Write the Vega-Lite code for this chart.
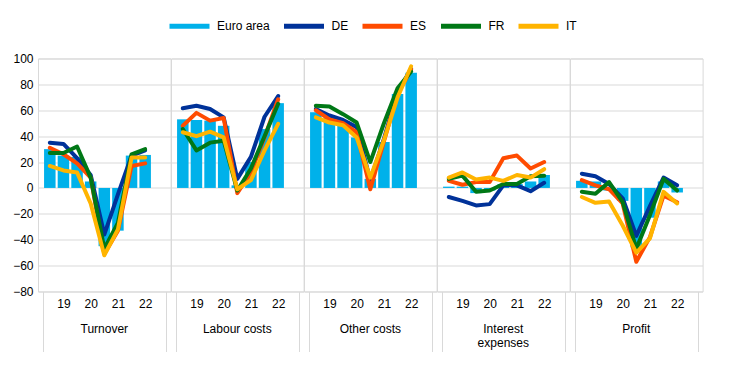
{
  "$schema": "https://vega.github.io/schema/vega-lite/v6.json",
  "background": "white",
  "padding": {"left": 12, "top": 3.5, "right": 5, "bottom": 5},
  "bounds": "flush",
  "config": {
    "font": "Liberation Sans",
    "view": {"stroke": "#d9d9d9", "strokeWidth": 1},
    "axis": {"labelFont": "Liberation Sans", "labelFontSize": 12, "labelColor": "#000000"}
  },
  "data": {
    "values": [
      {"panel": "Turnover", "half": 2018.5, "Euro area": 30, "DE": 35, "ES": 31, "FR": 27, "IT": 17},
      {"panel": "Turnover", "half": 2019, "Euro area": 25, "DE": 34, "ES": 26, "FR": 27, "IT": 13.5},
      {"panel": "Turnover", "half": 2019.5, "Euro area": 24, "DE": 23, "ES": 19, "FR": 32, "IT": 12},
      {"panel": "Turnover", "half": 2020, "Euro area": 5, "DE": 10, "ES": 8, "FR": 8, "IT": -12},
      {"panel": "Turnover", "half": 2020.5, "Euro area": -45, "DE": -36, "ES": -51, "FR": -47, "IT": -52},
      {"panel": "Turnover", "half": 2021, "Euro area": -33, "DE": -5, "ES": -33, "FR": -27, "IT": -32},
      {"panel": "Turnover", "half": 2021.5, "Euro area": 25, "DE": 25, "ES": 17, "FR": 26, "IT": 23.5},
      {"panel": "Turnover", "half": 2022, "Euro area": 25.5, "DE": 29, "ES": 19, "FR": 30, "IT": 23.5},
      {"panel": "Labour costs", "half": 2018.5, "Euro area": 53, "DE": 61.5, "ES": 48, "FR": 45.5, "IT": 43},
      {"panel": "Labour costs", "half": 2019, "Euro area": 52.5, "DE": 63.5, "ES": 58, "FR": 29, "IT": 40},
      {"panel": "Labour costs", "half": 2019.5, "Euro area": 52, "DE": 61, "ES": 52, "FR": 35, "IT": 43.5},
      {"panel": "Labour costs", "half": 2020, "Euro area": 48, "DE": 54.5, "ES": 54, "FR": 36.5, "IT": 39},
      {"panel": "Labour costs", "half": 2020.5, "Euro area": 2, "DE": 7, "ES": -4, "FR": -2, "IT": -1},
      {"panel": "Labour costs", "half": 2021, "Euro area": 20, "DE": 24, "ES": 12, "FR": 15, "IT": 6},
      {"panel": "Labour costs", "half": 2021.5, "Euro area": 45.5, "DE": 55, "ES": 39, "FR": 40, "IT": 29},
      {"panel": "Labour costs", "half": 2022, "Euro area": 65.5, "DE": 71, "ES": 68.5, "FR": 65, "IT": 49.5},
      {"panel": "Other costs", "half": 2018.5, "Euro area": 58.5, "DE": 61, "ES": 60, "FR": 63.5, "IT": 54.5},
      {"panel": "Other costs", "half": 2019, "Euro area": 54.5, "DE": 56, "ES": 53, "FR": 63, "IT": 50.5},
      {"panel": "Other costs", "half": 2019.5, "Euro area": 49.5, "DE": 52.5, "ES": 50, "FR": 57, "IT": 48.5},
      {"panel": "Other costs", "half": 2020, "Euro area": 39, "DE": 47, "ES": 43, "FR": 50.5, "IT": 39},
      {"panel": "Other costs", "half": 2020.5, "Euro area": 7, "DE": 6, "ES": -1, "FR": 20, "IT": 8},
      {"panel": "Other costs", "half": 2021, "Euro area": 35.5, "DE": 38, "ES": 36, "FR": 50, "IT": 37},
      {"panel": "Other costs", "half": 2021.5, "Euro area": 72.5, "DE": 74, "ES": 72.5, "FR": 77, "IT": 70},
      {"panel": "Other costs", "half": 2022, "Euro area": 89, "DE": 92, "ES": 91.5, "FR": 90, "IT": 94},
      {"panel": "Interest expenses", "half": 2018.5, "Euro area": 1, "DE": -7, "ES": 5.5, "FR": 7, "IT": 8},
      {"panel": "Interest expenses", "half": 2019, "Euro area": 1, "DE": -10, "ES": 2.5, "FR": 9.5, "IT": 12},
      {"panel": "Interest expenses", "half": 2019.5, "Euro area": -4, "DE": -13.5, "ES": 4.5, "FR": -3, "IT": 6.5},
      {"panel": "Interest expenses", "half": 2020, "Euro area": -2, "DE": -12.5, "ES": 4.5, "FR": -2, "IT": 8},
      {"panel": "Interest expenses", "half": 2020.5, "Euro area": 3, "DE": 2, "ES": 23, "FR": 3, "IT": 5.5},
      {"panel": "Interest expenses", "half": 2021, "Euro area": 3, "DE": 2, "ES": 25, "FR": 3, "IT": 10},
      {"panel": "Interest expenses", "half": 2021.5, "Euro area": 5, "DE": -2.5, "ES": 15, "FR": 9, "IT": 8},
      {"panel": "Interest expenses", "half": 2022, "Euro area": 10, "DE": 4, "ES": 20, "FR": 9.5, "IT": 14.5},
      {"panel": "Profit", "half": 2018.5, "Euro area": 5.5, "DE": 11, "ES": 6, "FR": -3, "IT": -7},
      {"panel": "Profit", "half": 2019, "Euro area": 5, "DE": 9, "ES": 2, "FR": -4.5, "IT": -11.5},
      {"panel": "Profit", "half": 2019.5, "Euro area": -2, "DE": 3, "ES": -1, "FR": 4.5, "IT": -10.5},
      {"panel": "Profit", "half": 2020, "Euro area": -10, "DE": -8, "ES": -12, "FR": -11, "IT": -29},
      {"panel": "Profit", "half": 2020.5, "Euro area": -46, "DE": -37, "ES": -57, "FR": -47, "IT": -50},
      {"panel": "Profit", "half": 2021, "Euro area": -23, "DE": -14, "ES": -38, "FR": -21, "IT": -39},
      {"panel": "Profit", "half": 2021.5, "Euro area": 5, "DE": 8, "ES": -6, "FR": 7, "IT": -3},
      {"panel": "Profit", "half": 2022, "Euro area": -3.5, "DE": 2, "ES": -11, "FR": -2, "IT": -12}
    ]
  },
  "transform": [
    {"fold": ["Euro area", "DE", "ES", "FR", "IT"], "as": ["series", "value"]}
  ],
  "facet": {
    "column": {
      "field": "panel",
      "type": "nominal",
      "sort": ["Turnover", "Labour costs", "Other costs", "Interest expenses", "Profit"],
      "header": {
        "title": null,
        "labelOrient": "bottom",
        "labelFont": "Liberation Sans",
        "labelFontSize": 12,
        "labelColor": "#000000",
        "labelPadding": -28,
        "labelLineHeight": 14,
        "labelExpr": "length(datum.label) > 14 ? split(datum.label, ' ') : datum.label"
      }
    }
  },
  "spacing": 0,
  "spec": {
    "width": 132.6,
    "height": 233,
    "encoding": {
      "x": {
        "field": "half",
        "type": "quantitative",
        "scale": {"domain": [2018.25, 2022.75], "nice": false, "zero": false},
        "axis": {
          "title": null,
          "values": [2018.25, 2019, 2020, 2021, 2022, 2022.75],
          "grid": false,
          "domain": false,
          "tickSize": 60,
          "tickColor": "#d9d9d9",
          "tickOpacity": {"condition": {"test": "datum.value > 2018.5 && datum.value < 2022.5", "value": 0}, "value": 1},
          "labelExpr": "datum.value == 2019 ? '19' : datum.value == 2020 ? '20' : datum.value == 2021 ? '21' : datum.value == 2022 ? '22' : ''",
          "labelPadding": -53,
          "labelOverlap": false,
          "labelFlush": false,
          "labelBound": false
        }
      },
      "y": {
        "field": "value",
        "type": "quantitative",
        "scale": {"domain": [-80, 100], "nice": false},
        "axis": {
          "title": null,
          "values": [-80, -60, -40, -20, 0, 20, 40, 60, 80, 100],
          "ticks": false,
          "domain": false,
          "gridColor": "#d9d9d9",
          "labelPadding": 5
        }
      },
      "color": {
        "field": "series",
        "type": "nominal",
        "scale": {
          "domain": ["Euro area", "DE", "ES", "FR", "IT"],
          "range": ["#00B1EA", "#003299", "#FF4B00", "#007816", "#FFB400"]
        },
        "legend": {
          "title": null,
          "orient": "none",
          "legendX": 129,
          "legendY": -55,
          "direction": "horizontal",
          "symbolType": "stroke",
          "symbolSize": 1600,
          "symbolStrokeWidth": 5,
          "labelFont": "Liberation Sans",
          "labelFontSize": 12,
          "labelColor": "#000000",
          "labelOffset": 5,
          "columnPadding": 3.5
        }
      }
    },
    "layer": [
      {
        "transform": [{"filter": "datum.series == 'Euro area'"}],
        "mark": {"type": "bar", "size": 11.5}
      },
      {
        "transform": [{"filter": "datum.series != 'Euro area'"}],
        "mark": {"type": "line", "strokeWidth": 4, "strokeJoin": "round", "strokeCap": "round"}
      }
    ]
  }
}
